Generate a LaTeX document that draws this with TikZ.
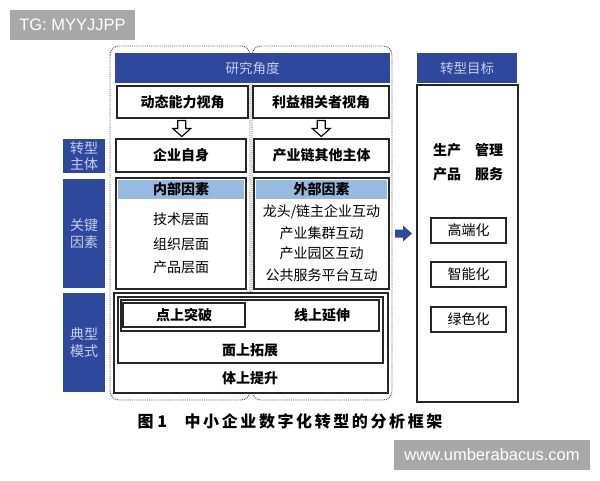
\documentclass[tikz,border=0pt]{standalone}
\usepackage{fontspec}
\setmainfont{Liberation Sans}
\newfontfamily\cjk{Noto Sans CJK SC}
\usetikzlibrary{calc}
\definecolor{hblue}{RGB}{46,72,158}
\definecolor{lblue}{RGB}{150,186,224}
\definecolor{pale}{RGB}{200,205,232}
\definecolor{wm}{RGB}{168,168,168}
\tikzset{
  frame/.style={draw=black!85, line width=1.2pt, rectangle, inner sep=0pt},
  bbox/.style={frame, fill=white, font=\cjk\bfseries\fontsize{14}{16}\selectfont},
  hdrbox/.style={rectangle, fill=hblue, inner sep=0pt, text=pale, font=\cjk\fontsize{13.5}{15}\selectfont},
  sidebox/.style={rectangle, fill=hblue, inner sep=0pt, text=pale, align=center, font=\cjk\fontsize{14}{16.5}\selectfont},
  subhdr/.style={rectangle, fill=lblue, inner sep=0pt, font=\cjk\bfseries\fontsize{14}{15}\selectfont},
  item/.style={inner sep=0pt, font=\cjk\fontsize{14}{15}\selectfont},
  bitem/.style={inner sep=0pt, font=\cjk\bfseries\fontsize{14}{15}\selectfont},
  dotframe/.style={draw=black!70, line width=0.9pt, densely dotted, rounded corners=9pt},
  harrow/.pic={\draw[fill=white, line width=1.1pt, line join=miter] (-4,-8) -- (-4,0) -- (-9,0) -- (0,8) -- (9,0) -- (4,0) -- (4,-8) -- cycle;},
  barrow/.pic={\fill[hblue] (-8,-4) -- (0,-4) -- (0,-8) -- (9,0) -- (0,8) -- (0,4) -- (-8,4) -- cycle;},
  wmark/.style={rectangle, fill=wm, text=white, inner sep=0pt, font=\fontsize{16.5}{18}\selectfont}
}
\begin{document}
\begin{tikzpicture}[x=1pt, y=-1pt]
\useasboundingbox (0,0) rectangle (600,480);
% watermarks
\node[wmark, minimum width=125pt, minimum height=30pt] (tg) at (72.5,25) {TG: MYYJJPP};
\node[wmark, minimum width=196pt, minimum height=30pt] (url) at (492,455) {www.umberabacus.com};
% dotted groups
\draw[dotframe] (110,46) rectangle (250,400);
\draw[dotframe] (252,46) rectangle (392,400);
% header
\node[hdrbox, minimum width=275pt, minimum height=30pt] (hdr) at (252.5,68) {研究角度};
% perspectives
\node[bbox, minimum width=131pt, minimum height=32pt] (d1) at (182.5,102) {动态能力视角};
\node[bbox, minimum width=136pt, minimum height=32pt] (d2) at (321,102) {利益相关者视角};
% subjects
\node[bbox, minimum width=130pt, minimum height=33pt] (s1) at (181,155.5) {企业自身};
\node[bbox, minimum width=135pt, minimum height=33pt] (s2) at (321.5,155.5) {产业链其他主体};
\pic at ($(d1.south)!0.5!(s1.north)$) {harrow};
\pic at ($(d2.south)!0.5!(s2.north)$) {harrow};
% factors
\node[frame, fill=white, minimum width=130pt, minimum height=111pt] (f1) at (181,233.5) {};
\node[subhdr, minimum width=126pt, minimum height=19pt] (f1h) at (181,189.5) {内部因素};
\node[item] (f1a) at (181,219) {技术层面};
\node[item] (f1b) at (181,244) {组织层面};
\node[item] (f1c) at (181,267) {产品层面};
\node[frame, fill=white, minimum width=135pt, minimum height=111pt] (f2) at (321.5,233.5) {};
\node[subhdr, minimum width=131pt, minimum height=19pt] (f2h) at (321.5,189.5) {外部因素};
\node[item] (f2a) at (321.5,212) {龙头/链主企业互动};
\node[item] (f2b) at (321.5,233) {产业集群互动};
\node[item] (f2c) at (321.5,253) {产业园区互动};
\node[item] (f2d) at (321.5,275) {公共服务平台互动};
% modes
\node[frame, fill=white, minimum width=274pt, minimum height=100pt] (mo) at (251,343) {};
\node[frame, minimum width=265pt, minimum height=66pt] (mm) at (250.5,330) {};
\node[frame, minimum width=258pt, minimum height=31pt] (mx) at (250,315.5) {};
\node[frame, minimum width=122pt, minimum height=24pt] (md) at (184,315) {};
\node[bitem] (tdian) at (184,315) {点上突破};
\node[bitem] (txian) at (322,315) {线上延伸};
\node[bitem] (tmian) at (250,350) {面上拓展};
\node[bitem] (tti) at (250,378) {体上提升};
% side labels
\node[sidebox, minimum width=42pt, minimum height=34pt] (zt) at (84,156) {转型\\主体};
\node[sidebox, minimum width=42pt, minimum height=109pt] (gj) at (84,233.5) {关键\\因素};
\node[sidebox, minimum width=42pt, minimum height=99pt] (dx) at (84,342.5) {典型\\模式};
% goals
\node[hdrbox, minimum width=100pt, minimum height=30pt] (hdr2) at (467,68) {转型目标};
\node[frame, minimum width=101pt, minimum height=317pt] (g) at (467.5,243.5) {};
\node[bitem] (g1) at (468,150) {生产\hspace{1em}管理};
\node[bitem] (g2) at (468,174) {产品\hspace{1em}服务};
\node[frame, font=\cjk\fontsize{14}{15}\selectfont, minimum width=75pt, minimum height=25pt] (gh) at (468.5,230.5) {高端化};
\node[frame, font=\cjk\fontsize{14}{15}\selectfont, minimum width=75pt, minimum height=25pt] (gz) at (468.5,274.5) {智能化};
\node[frame, font=\cjk\fontsize{14}{15}\selectfont, minimum width=75pt, minimum height=25pt] (gl) at (468.5,319.5) {绿色化};
\pic at ($(f2.east)!0.5!(g.west |- f2.east)$) {barrow};
% caption
\node[inner sep=0pt, font=\cjk\bfseries\fontsize{16}{18}\selectfont] (cap) at (290,421) {图 1\hspace{1.1em}中\hspace{2.6pt}小\hspace{2.6pt}企\hspace{2.6pt}业\hspace{2.6pt}数\hspace{2.6pt}字\hspace{2.6pt}化\hspace{2.6pt}转\hspace{2.6pt}型\hspace{2.6pt}的\hspace{2.6pt}分\hspace{2.6pt}析\hspace{2.6pt}框\hspace{2.6pt}架};
\end{tikzpicture}
\end{document}
